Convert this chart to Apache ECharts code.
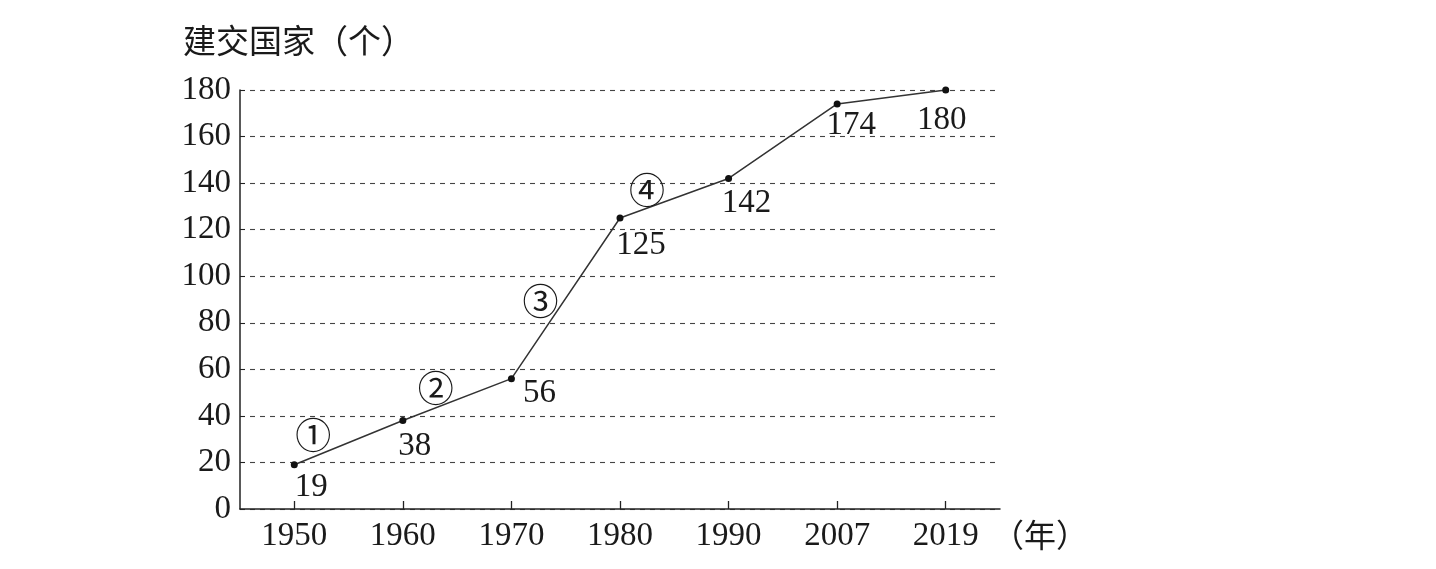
<!DOCTYPE html>
<html>
<head>
<meta charset="utf-8">
<script src="https://cdn.jsdelivr.net/npm/echarts@6/dist/echarts.min.js"></script>
<style>
html, body { margin: 0; padding: 0; background: #fff; }
#main { width: 1436px; height: 569px; }
</style>
</head>
<body>
<div id="main"></div>
<script>
// 数据
var years = ['1950', '1960', '1970', '1980', '1990', '2007', '2019'];
var countries = [19, 38, 56, 125, 142, 174, 180];
var stageMarks = ['①', '②', '③', '④'];
var yTicks = [0, 20, 40, 60, 80, 100, 120, 140, 160, 180];

// 数值标签、阶段序号相对数据点的偏移（像素）
var labelOffsets = [[17, 0], [12, 3], [28, -8], [21, 4], [18, 2], [14, -2], [-4, 7]];
var markOffsets = [[19, -29], [33, -32], [29, -77], [27, -28]];

var serif = 'Liberation Serif';
var cjk = 'Noto Sans CJK SC';
var ink = '#1a1a1a';

var lineData = countries.map(function (v, i) {
    return {
        value: v,
        label: { offset: labelOffsets[i] }
    };
});

var marks = stageMarks.map(function (m, i) {
    return {
        coord: [years[i], countries[i]],
        symbol: 'circle',
        symbolSize: 0,
        label: {
            show: true,
            position: 'inside',
            formatter: m,
            offset: markOffsets[i],
            fontFamily: cjk,
            fontSize: 36,
            color: ink
        }
    };
});

var option = {
    animation: false,
    backgroundColor: '#fff',
    title: {
        text: '建交国家（个）',
        left: 178,
        top: 19,
        textStyle: { fontFamily: cjk, fontSize: 33, fontWeight: 'normal', color: ink }
    },
    grid: {
        left: 240,
        right: 436,
        top: 90,
        bottom: 60
    },
    xAxis: {
        type: 'category',
        data: years,
        boundaryGap: true,
        name: '（年）',
        nameLocation: 'end',
        nameGap: -8,
        nameTextStyle: {
            fontFamily: cjk, fontSize: 32, color: ink,
            verticalAlign: 'top', padding: [10, 0, 0, 0]
        },
        axisLine: { lineStyle: { color: '#222', width: 1.5 } },
        axisTick: {
            show: true, alignWithLabel: true, inside: true, length: 8,
            lineStyle: { color: '#222', width: 1.3 }
        },
        axisLabel: { fontFamily: serif, fontSize: 33, color: ink, margin: 11 },
        splitLine: { show: false }
    },
    yAxis: {
        type: 'value',
        min: yTicks[0],
        max: yTicks[yTicks.length - 1],
        interval: yTicks[1] - yTicks[0],
        axisLine: { show: true, lineStyle: { color: '#222', width: 1.5 } },
        axisTick: { show: true, inside: true, length: 5, lineStyle: { color: '#222' } },
        axisLabel: { fontFamily: serif, fontSize: 33, color: ink, margin: 9 },
        splitLine: {
            lineStyle: { type: [5, 5], color: '#444', width: 1.1 }
        }
    },
    series: [
        {
            name: '建交国家',
            type: 'line',
            data: lineData,
            symbol: 'circle',
            symbolSize: 7,
            itemStyle: { color: '#111' },
            lineStyle: { color: '#333', width: 1.5 },
            label: {
                show: true,
                position: 'bottom',
                distance: 3,
                fontFamily: serif,
                fontSize: 33,
                color: ink
            },
            markPoint: {
                silent: true,
                data: marks
            }
        }
    ]
};

var chart = echarts.init(document.getElementById('main'));
chart.setOption(option);
</script>
</body>
</html>
